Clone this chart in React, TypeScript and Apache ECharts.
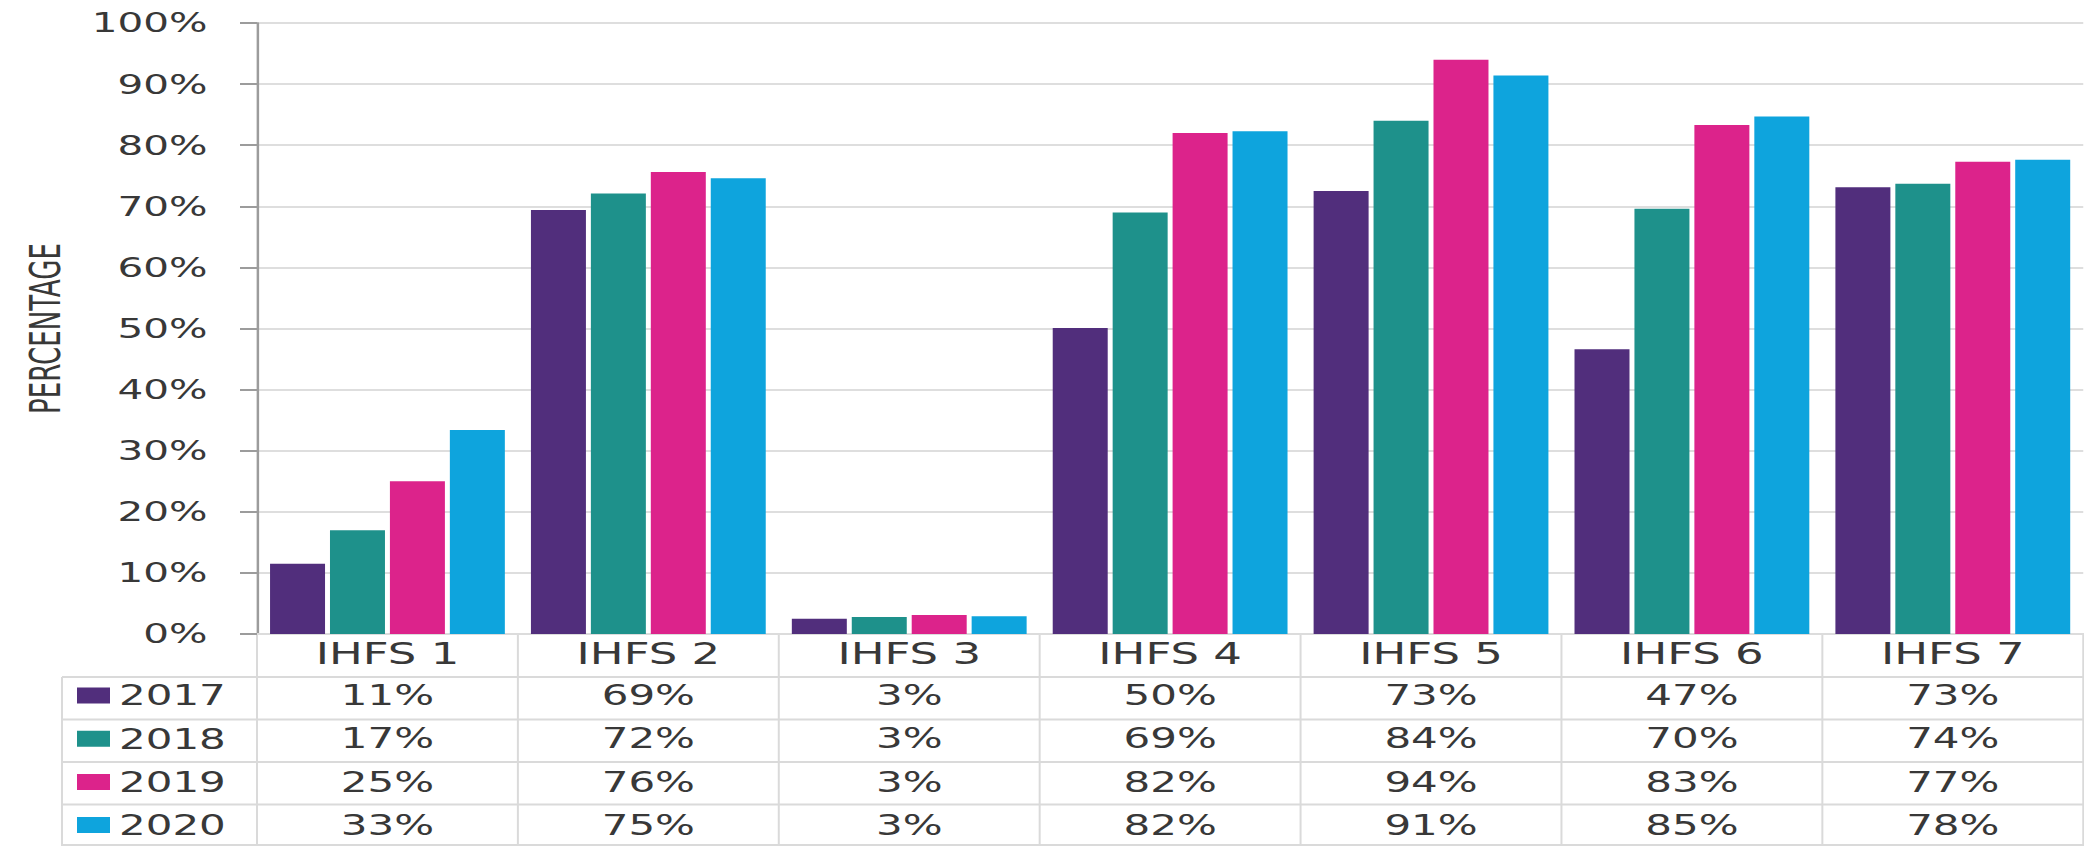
import React, { useEffect, useRef } from "react";
import * as echarts from "echarts";

// ---- data ----
const categories = ["IHFS 1", "IHFS 2", "IHFS 3", "IHFS 4", "IHFS 5", "IHFS 6", "IHFS 7"];
const years = ["2017", "2018", "2019", "2020"];
// bar heights (percent)
const bars2017 = [11.5, 69.4, 2.5, 50.1, 72.5, 46.6, 73.1];
const bars2018 = [17.0, 72.1, 2.8, 69.0, 84.0, 69.6, 73.7];
const bars2019 = [25.0, 75.6, 3.1, 82.0, 94.0, 83.3, 77.3];
const bars2020 = [33.4, 74.6, 2.9, 82.3, 91.4, 84.7, 77.6];
// values printed in the data table (percent)
const table2017 = [11, 69, 3, 50, 73, 47, 73];
const table2018 = [17, 72, 3, 69, 84, 70, 74];
const table2019 = [25, 76, 3, 82, 94, 83, 77];
const table2020 = [33, 75, 3, 82, 91, 85, 78];
const yTicks = { min: 0, max: 100, interval: 10 };
const yAxisTitle = "PERCENTAGE";
const colors = ["#512E7C", "#1E918B", "#DC238B", "#0EA4DD"];

const barRows = [bars2017, bars2018, bars2019, bars2020];
const tableRows = [table2017, table2018, table2019, table2020];

// ---- layout (the whole chart is stretched horizontally) ----
const FULL_W = 2084;
const H = 846;
const W = 1390;
const S = FULL_W / W;
const GRID_LEFT = 257 / S;
const GRID_RIGHT = 0.5;
const GRID_TOP = 23;
const GRID_BOTTOM_Y = 634;
const TABLE_LEFT = 62 / S;
const ROW_LINES = [677, 719.5, 762, 804.5, 845];
const ROW_CENTERS = [695.5, 738.5, 782, 825];
const FONT = "'DejaVu Sans', 'Noto Sans', sans-serif";
const NARROW = "'Liberation Sans Narrow', 'DejaVu Sans Condensed', 'Arial Narrow', sans-serif";
const TEXT = "#383838";
const TABLE_LINE = "#dadada";

export default function App() {
  const ref = useRef<HTMLDivElement>(null);
  useEffect(() => {
    if (!ref.current) return;
    const chart = echarts.init(ref.current, null, { renderer: "svg", width: W, height: H });
    const plotW = W - GRID_LEFT - GRID_RIGHT;
    const cat = plotW / categories.length;
    const vw = 2 / S;

    const graphics: any[] = [];
    // vertical table lines at category boundaries
    for (let i = 0; i <= categories.length; i++) {
      const x = GRID_LEFT + i * cat;
      graphics.push({
        type: "line",
        silent: true,
        shape: { x1: x, y1: GRID_BOTTOM_Y, x2: x, y2: H },
        style: { stroke: TABLE_LINE, lineWidth: vw },
      });
    }
    // left border of the legend column
    graphics.push({
      type: "line",
      silent: true,
      shape: { x1: TABLE_LEFT, y1: ROW_LINES[0], x2: TABLE_LEFT, y2: H },
      style: { stroke: TABLE_LINE, lineWidth: vw },
    });
    // horizontal table lines
    ROW_LINES.forEach((y) => {
      graphics.push({
        type: "line",
        silent: true,
        shape: { x1: TABLE_LEFT, y1: y, x2: W, y2: y },
        style: { stroke: TABLE_LINE, lineWidth: 2 },
      });
    });

    const rowAxes = tableRows.map((row, r) => ({
      type: "category",
      gridIndex: 0,
      position: "bottom",
      data: categories,
      axisLine: { show: false },
      axisTick: { show: false },
      splitLine: { show: false },
      axisLabel: {
        interval: 0,
        margin: ROW_CENTERS[r] - GRID_BOTTOM_Y,
        verticalAlign: "middle",
        fontFamily: FONT,
        fontSize: 28,
        color: TEXT,
        formatter: (_v: string, i: number) => `${row[i]}%`,
      },
    }));

    chart.setOption({
      animation: false,
      color: colors,
      grid: {
        left: GRID_LEFT,
        right: GRID_RIGHT,
        top: GRID_TOP,
        bottom: H - GRID_BOTTOM_Y,
        containLabel: false,
      },
      legend: {
        orient: "vertical",
        left: TABLE_LEFT + 15 / S,
        top: ROW_CENTERS[0] - 15,
        padding: 0,
        itemWidth: 33 / S,
        itemHeight: 16,
        itemGap: 13.2,
        icon: "rect",
        selectedMode: false,
        data: years,
        textStyle: { fontFamily: FONT, fontSize: 28, lineHeight: 30, color: TEXT, padding: [0, 0, 0, 1] },
      },
      xAxis: [
        {
          type: "category",
          data: categories,
          axisLine: { show: true, lineStyle: { color: "#dcdcdc", width: 2 } },
          axisTick: { show: false },
          splitLine: { show: false },
          axisLabel: {
            interval: 0,
            margin: 20,
            verticalAlign: "middle",
            fontFamily: FONT,
            fontSize: 30,
            color: TEXT,
          },
        },
        ...rowAxes,
      ],
      yAxis: {
        type: "value",
        min: yTicks.min,
        max: yTicks.max,
        interval: yTicks.interval,
        name: yAxisTitle,
        nameLocation: "middle",
        nameGap: 127,
        nameTextStyle: { fontFamily: NARROW, fontSize: 29, color: TEXT },
        axisLine: { show: true, lineStyle: { color: "#9c9c9c", width: 2.5 / S } },
        axisTick: { show: true, length: 17 / S, lineStyle: { color: "#9c9c9c", width: 2 } },
        splitLine: { show: true, lineStyle: { color: "#dedede", width: 2 } },
        axisLabel: {
          margin: 33,
          fontFamily: FONT,
          fontSize: 27,
          color: TEXT,
          formatter: "{value}%",
        },
      },
      series: years.map((y, k) => ({
        name: y,
        type: "bar",
        xAxisIndex: 0,
        data: barRows[k],
        barGap: "9%",
        barCategoryGap: "10%",
        itemStyle: { color: colors[k] },
      })),
      graphic: { elements: graphics },
    });
    return () => chart.dispose();
  }, []);

  return (
    <div
      ref={ref}
      style={{
        position: "absolute",
        left: 0,
        top: 0,
        width: W,
        height: H,
        transform: `scaleX(${S})`,
        transformOrigin: "0 0",
        background: "#fff",
      }}
    />
  );
}
